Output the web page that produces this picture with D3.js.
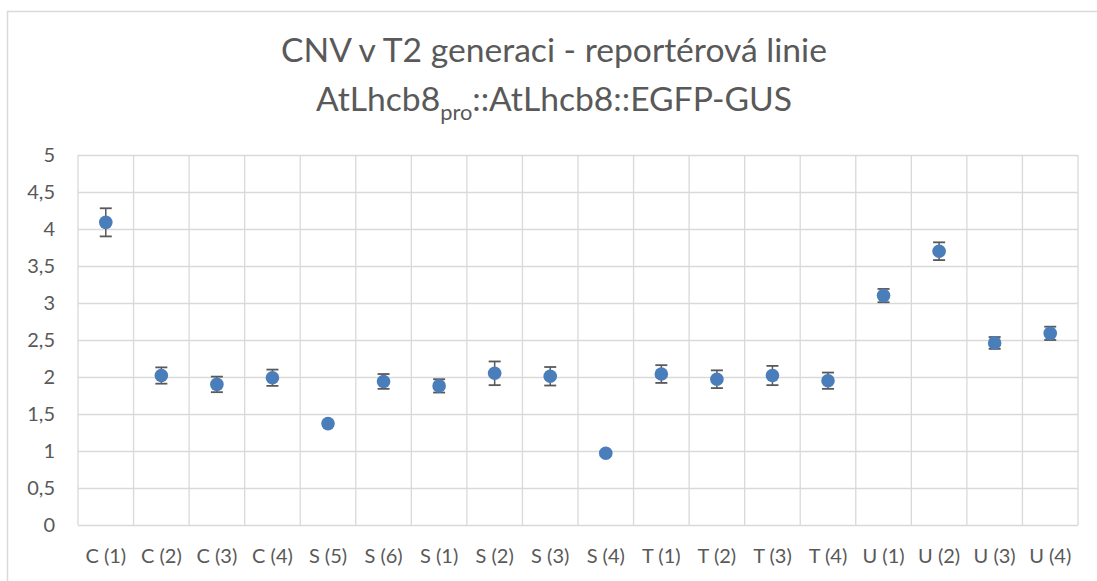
<!DOCTYPE html>
<html>
<head>
<meta charset="utf-8">
<script src="https://cdn.jsdelivr.net/npm/d3@7"></script>
<style>
  body { margin: 0; background: #fff; }
  svg { display: block; font-family: Lato, "Open Sans", sans-serif; }
</style>
</head>
<body>
<div id="chart"></div>
<script>
var categories = ["C (1)", "C (2)", "C (3)", "C (4)", "S (5)", "S (6)", "S (1)", "S (2)", "S (3)", "S (4)",
    "T (1)", "T (2)", "T (3)", "T (4)", "U (1)", "U (2)", "U (3)", "U (4)"];
var values = [4.09, 2.02, 1.90, 1.99, 1.37, 1.94, 1.88, 2.05, 2.01, 0.97, 2.04, 1.97, 2.02, 1.95, 3.10, 3.70, 2.46, 2.59];
var errors = [0.19, 0.11, 0.105, 0.11, 0.03, 0.10, 0.09, 0.16, 0.125, 0.03, 0.12, 0.12, 0.13, 0.11, 0.09, 0.12, 0.08, 0.09];
var yTicks = [0, 0.5, 1, 1.5, 2, 2.5, 3, 3.5, 4, 4.5, 5];
var titleLine1 = "CNV v T2 generaci - reportérová linie";
var titleLine2 = ["AtLhcb8", "pro", "::AtLhcb8::EGFP-GUS"];

var width = 1097, height = 581;
var plot = { left: 78, right: 1078, top: 155, bottom: 525 };
var gridColor = "#d9d9d9", textColor = "#595959", dotColor = "#4a7ebb";
var labelFont = "Lato, 'Open Sans', sans-serif";

var svg = d3.select("#chart").append("svg").attr("width", width).attr("height", height);

// chart area border
svg.append("rect").attr("x", 7.5).attr("y", 11.5).attr("width", 1100).attr("height", 620)
    .attr("fill", "none").attr("stroke", gridColor).attr("stroke-width", 1.5);

var x = d3.scaleBand().domain(categories).range([plot.left, plot.right]);
var y = d3.scaleLinear().domain([0, 5]).range([plot.bottom, plot.top]);

// horizontal grid + y labels
var yAxis = d3.axisLeft(y).tickValues(yTicks).tickSize(-(plot.right - plot.left)).tickPadding(23)
    .tickFormat(d => String(d).replace(".", ","));
var gy = svg.append("g").attr("transform", "translate(" + plot.left + ",0)").call(yAxis);
gy.select(".domain").remove();
gy.selectAll(".tick line").attr("stroke", gridColor).attr("stroke-width", 1.3);
gy.selectAll(".tick text").attr("fill", textColor).attr("font-size", 20).attr("font-family", labelFont);

// vertical grid at category boundaries
var bounds = categories.map(c => x(c)).concat([plot.right]);
svg.append("g").selectAll("line").data(bounds).join("line")
    .attr("x1", d => d).attr("x2", d => d).attr("y1", plot.top).attr("y2", plot.bottom)
    .attr("stroke", gridColor).attr("stroke-width", 1.3);

// x labels
var xAxis = d3.axisBottom(x).tickSize(0).tickPadding(24);
var gx = svg.append("g").attr("transform", "translate(0," + plot.bottom + ")").call(xAxis);
gx.select(".domain").remove();
gx.selectAll(".tick text").attr("fill", textColor).attr("font-size", 20).attr("font-family", labelFont);

// error bars
var cx = d => x(d) + x.bandwidth() / 2;
var eb = svg.append("g").selectAll("g").data(categories).join("g");
eb.append("line").attr("x1", cx).attr("x2", cx)
    .attr("y1", (d, i) => y(values[i] + errors[i])).attr("y2", (d, i) => y(values[i] - errors[i]))
    .attr("stroke", textColor).attr("stroke-width", 1.5);
eb.append("line").attr("x1", d => cx(d) - 6).attr("x2", d => cx(d) + 6)
    .attr("y1", (d, i) => y(values[i] + errors[i])).attr("y2", (d, i) => y(values[i] + errors[i]))
    .attr("stroke", textColor).attr("stroke-width", 1.8);
eb.append("line").attr("x1", d => cx(d) - 6).attr("x2", d => cx(d) + 6)
    .attr("y1", (d, i) => y(values[i] - errors[i])).attr("y2", (d, i) => y(values[i] - errors[i]))
    .attr("stroke", textColor).attr("stroke-width", 1.8);

// points
svg.append("g").selectAll("circle").data(categories).join("circle")
    .attr("cx", cx).attr("cy", (d, i) => y(values[i])).attr("r", 6.8).attr("fill", dotColor);

// title
var t1 = svg.append("text").attr("x", 554).attr("y", 62).attr("text-anchor", "middle")
    .attr("fill", textColor).attr("font-size", 32).text(titleLine1);
var fs = 32 * 546 / t1.node().getComputedTextLength();
t1.attr("font-size", fs);

var t2 = svg.append("text").attr("x", 554).attr("y", 111).attr("text-anchor", "middle")
    .attr("fill", textColor).attr("font-size", fs);
t2.append("tspan").text(titleLine2[0]);
t2.append("tspan").attr("font-size", fs * 0.65).attr("dy", 9).text(titleLine2[1]);
t2.append("tspan").attr("dy", -9).text(titleLine2[2]);
</script>
</body>
</html>
